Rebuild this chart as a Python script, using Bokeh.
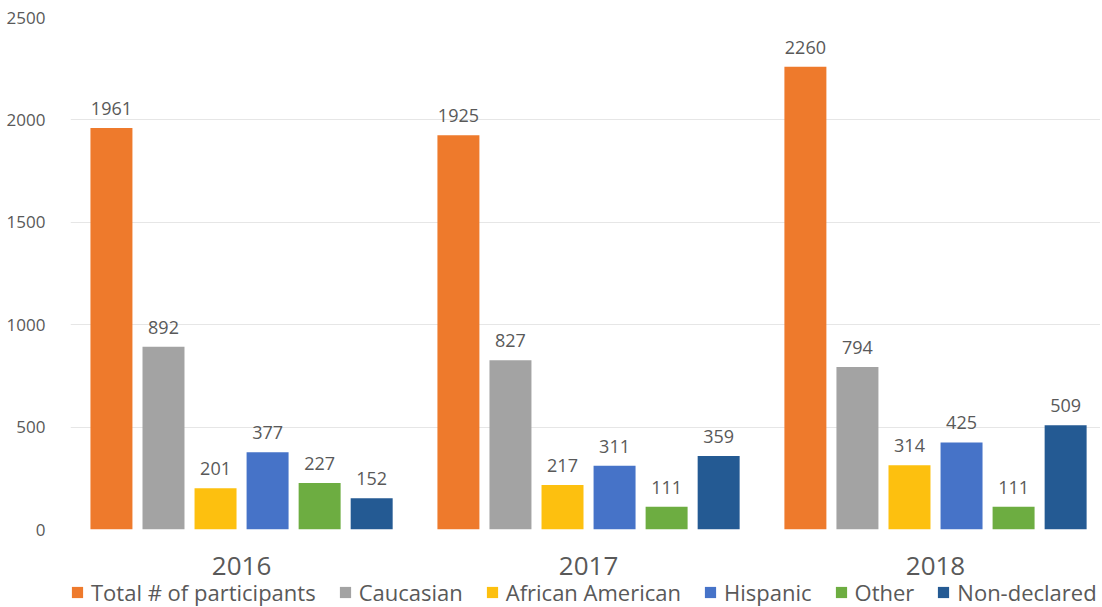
from bokeh.plotting import figure
from bokeh.layouts import column
from bokeh.models import ColumnDataSource, Range1d, FixedTicker, Legend, LegendItem
from bokeh.transform import dodge
from bokeh.core.properties import value
from bokeh.embed import file_html
from bokeh.resources import INLINE

years = ["2016", "2017", "2018"]
categories = ["Total # of participants", "Caucasian", "African American",
              "Hispanic", "Other", "Non-declared"]
total = [1961, 1925, 2260]
caucasian = [892, 827, 794]
african_american = [201, 217, 314]
hispanic = [377, 311, 425]
other = [227, 111, 111]
non_declared = [152, 359, 509]
series = [total, caucasian, african_american, hispanic, other, non_declared]
colors = ["#EE7A2C", "#A3A3A3", "#FDC00F", "#4673C8", "#6DAD41", "#245A93"]

FONT = "Open Sans"
TXT = "#595959"

data = {"x": [0, 1, 2]}
for i, s in enumerate(series):
    data["s%d" % i] = s
    data["l%d" % i] = [str(v) for v in s]
src = ColumnDataSource(data)

p = figure(width=1100, height=579, output_backend="svg", toolbar_location=None,
           x_range=Range1d(-0.493, 2.4755), y_range=Range1d(0, 2500),
           min_border_top=17, min_border_left=70, min_border_right=0, min_border_bottom=50)
p.outline_line_color = None

# companion strip that only carries the legend (its bars lie outside its ranges)
lg = figure(width=1100, height=28, output_backend="svg", toolbar_location=None,
            x_range=Range1d(10, 20), y_range=Range1d(5000, 6000),
            x_axis_location=None, y_axis_location=None,
            min_border_top=0, min_border_left=0, min_border_right=0, min_border_bottom=0)
lg.outline_line_color = None
lg.xgrid.grid_line_color = None
lg.ygrid.grid_line_color = None

pitch = 0.150
bw = 0.121
items = []
for i, (cat, col) in enumerate(zip(categories, colors)):
    off = (i - 2.5) * pitch
    p.vbar(x=dodge("x", off), top="s%d" % i, width=bw, source=src,
           fill_color=col, line_color=None)
    p.text(x=dodge("x", off), y="s%d" % i, text="l%d" % i, source=src,
           text_align="center", text_baseline="bottom", y_offset=-13,
           text_font=value(FONT), text_font_size="18px", text_color=TXT)
    r = lg.vbar(x=dodge("x", off), top="s%d" % i, width=bw, source=src,
                fill_color=col, line_color=None)
    items.append(LegendItem(label=cat, renderers=[r]))

p.xaxis.ticker = FixedTicker(ticks=[0, 1, 2])
p.xaxis.major_label_overrides = {0: "2016", 1: "2017", 2: "2018"}
p.xaxis.major_label_text_font = FONT
p.xaxis.major_label_text_font_size = "26px"
p.xaxis.major_label_text_color = TXT
p.xaxis.major_label_standoff = 21
p.xaxis.axis_line_color = None
p.xaxis.major_tick_line_color = None
p.xaxis.minor_tick_line_color = None

p.yaxis.ticker = FixedTicker(ticks=[0, 500, 1000, 1500, 2000, 2500])
p.yaxis.major_label_text_font = FONT
p.yaxis.major_label_text_font_size = "17px"
p.yaxis.major_label_text_color = TXT
p.yaxis.major_label_standoff = 19
p.yaxis.axis_line_color = None
p.yaxis.major_tick_line_color = None
p.yaxis.minor_tick_line_color = None

p.xgrid.grid_line_color = None
p.ygrid.grid_line_color = "#E6E6E6"
p.ygrid.grid_line_width = 1

legend = Legend(items=items, orientation="horizontal", location=(0, 0),
                label_text_font=FONT, label_text_font_size="22px", label_text_color=TXT,
                glyph_width=14, glyph_height=14, label_standoff=7, spacing=22,
                padding=0, margin=0, border_line_color=None, background_fill_alpha=0,
                label_height=28)
lg.add_layout(legend)

layout = column(p, lg, spacing=0)
open("out.html", "w").write(file_html(layout, INLINE))
